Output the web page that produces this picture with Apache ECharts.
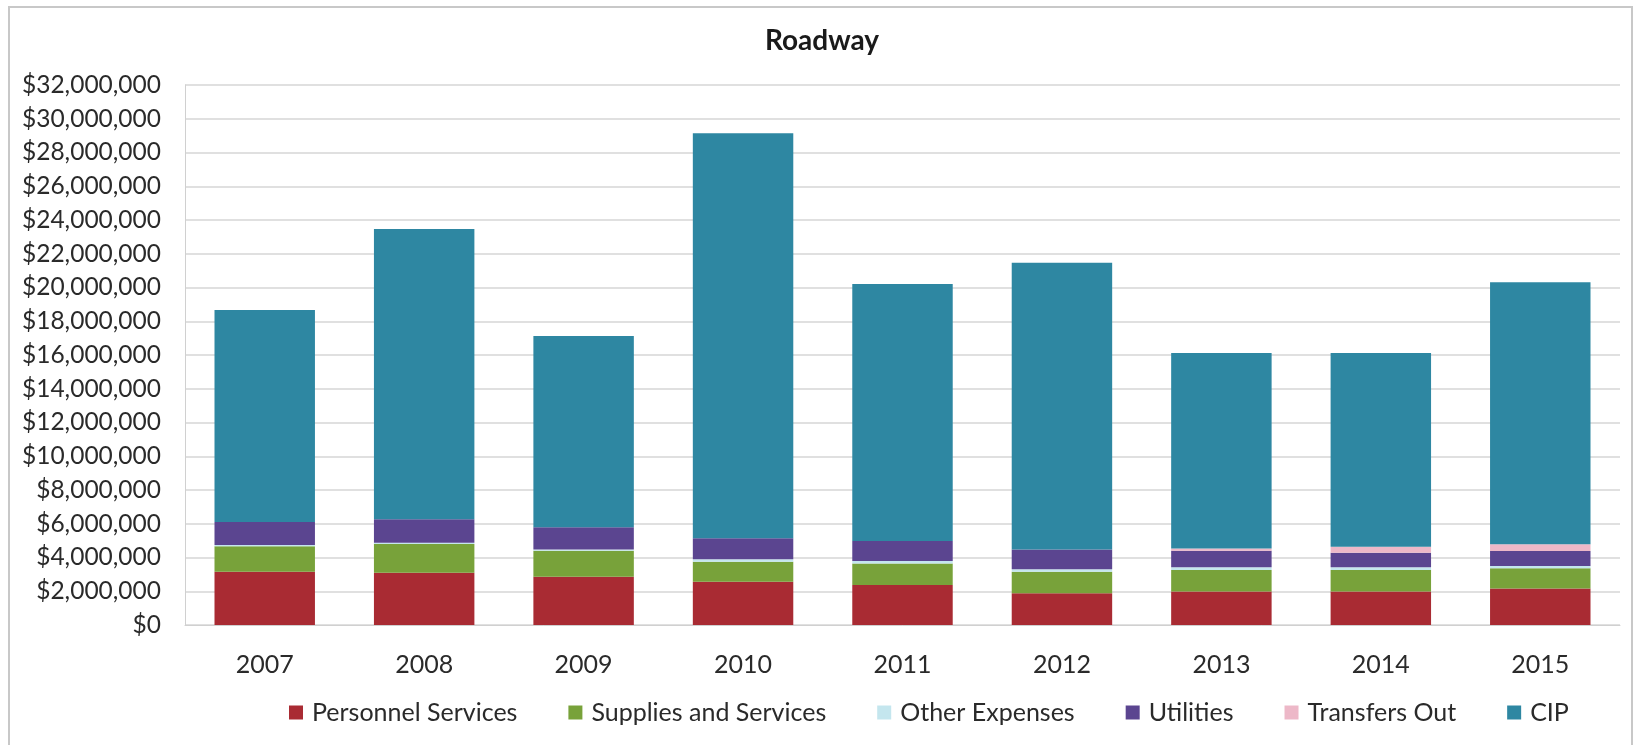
<!DOCTYPE html>
<html>
<head>
<meta charset="utf-8">
<script src="https://cdn.jsdelivr.net/npm/echarts@6/dist/echarts.min.js"></script>
<style>
html,body{margin:0;padding:0;background:#fff;}
#frame{position:absolute;left:8px;top:6px;width:1625px;height:745px;border:2px solid #c8c8c8;box-sizing:border-box;}
#chart{position:absolute;left:0;top:0;width:1643px;height:745px;}
</style>
</head>
<body>
<div id="frame"></div>
<div id="chart"></div>
<script>
const categories = ['2007','2008','2009','2010','2011','2012','2013','2014','2015'];
const personnelServices = [3160000, 3100000, 2860000, 2570000, 2370000, 1880000, 1980000, 1980000, 2170000];
const suppliesAndServices = [1500000, 1700000, 1540000, 1180000, 1280000, 1280000, 1280000, 1280000, 1190000];
const otherExpenses = [80000, 80000, 80000, 140000, 140000, 140000, 160000, 160000, 140000];
const utilities = [1360000, 1380000, 1310000, 1250000, 1190000, 1180000, 980000, 860000, 880000];
const transfersOut = [0, 0, 0, 0, 0, 0, 140000, 360000, 400000];
const cip = [12570000, 17210000, 11340000, 24000000, 15230000, 16990000, 11580000, 11480000, 15530000];
const yTicks = { min: 0, max: 32000000, interval: 2000000 };

const seriesDefs = [
  ['Personnel Services', personnelServices, '#A92B33'],
  ['Supplies and Services', suppliesAndServices, '#78A23A'],
  ['Other Expenses', otherExpenses, '#C4E6EE'],
  ['Utilities', utilities, '#5B4590'],
  ['Transfers Out', transfersOut, '#EDB8C8'],
  ['CIP', cip, '#2E87A2']
];

const chart = echarts.init(document.getElementById('chart'));
const fontFam = 'Lato, "Open Sans", sans-serif';
chart.setOption({
  animation: false,
  title: {
    text: 'Roadway', left: 817, top: 22, textAlign: 'center',
    textStyle: { fontFamily: fontFam, fontSize: 28, fontWeight: 'bold', color: '#1a1a1a' }
  },
  legend: {
    bottom: 15, left: 284,
    itemWidth: 14, itemHeight: 14, itemGap: 51,
    icon: 'rect',
    textStyle: { fontFamily: fontFam, fontSize: 25, color: '#2a2a2a', padding: [0, 0, 0, 4] },
    data: seriesDefs.map(d => d[0])
  },
  grid: { left: 185, right: 23, top: 85, bottom: 120 },
  xAxis: {
    type: 'category', data: categories,
    axisLine: { lineStyle: { color: '#d0d0d0' } },
    axisTick: { show: false },
    axisLabel: { fontFamily: fontFam, fontSize: 25, color: '#2a2a2a', margin: 27 }
  },
  yAxis: {
    type: 'value', min: yTicks.min, max: yTicks.max, interval: yTicks.interval,
    axisLine: { show: true, lineStyle: { color: '#d0d0d0' } },
    splitLine: { lineStyle: { color: '#d6d6d6', width: 1.5 } },
    axisLabel: {
      fontFamily: fontFam, fontSize: 24.5, color: '#2a2a2a', margin: 24,
      formatter: v => '$' + v.toLocaleString('en-US')
    }
  },
  series: seriesDefs.map(d => ({
    name: d[0], type: 'bar', stack: 'total', data: d[1],
    barCategoryGap: '37%',
    itemStyle: { color: d[2] }
  }))
});
</script>
</body>
</html>
